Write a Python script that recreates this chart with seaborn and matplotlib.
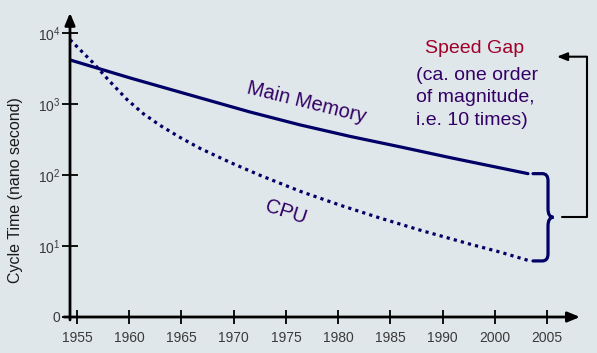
import matplotlib
matplotlib.use('Agg')
import matplotlib.pyplot as plt
import seaborn as sns
from matplotlib.path import Path
from matplotlib.patches import PathPatch
from matplotlib.ticker import NullLocator

# Main memory cycle time (ns)
mem_years = [1954.33, 1960.17, 1966.78, 1971.56, 1976.35, 1981.14, 1985.93, 1990.71, 1998.18]
mem_ns = [4140, 2290, 1213, 767, 505, 348, 248, 175, 104]

# CPU cycle time (ns)
cpu_years = [1954.33, 1956.53, 1958.16, 1959.79, 1961.32, 1962.95, 1964.86, 1966.78, 1969.65,
             1972.52, 1976.35, 1980.18, 1984.01, 1987.84, 1992.63, 1995.50, 1998.37]
cpu_ns = [7980, 3790, 2050, 1148, 731, 497, 337, 236, 150,
          98.7, 58.9, 37.5, 24.7, 16.7, 10.6, 8.2, 6.15]

# Axis ticks: ten evenly spaced ticks, labels as printed (1990 is followed by 2000)
tick_years = [1955, 1960, 1965, 1970, 1975, 1980, 1985, 1990, 1995, 2000]
tick_labels = ['1955', '1960', '1965', '1970', '1975', '1980', '1985', '1990', '2000', '2005']
y_ticks = [1, 10, 100, 1000, 10000]
y_labels = ['0', r'$\mathregular{10^1}$', r'$\mathregular{10^2}$', r'$\mathregular{10^3}$', r'$\mathregular{10^4}$']

gap_title = 'Speed Gap'
gap_lines = ['(ca. one order', 'of magnitude,', 'i.e. 10 times)']

bg = '#e0e7ea'
navy = '#000066'
purple = '#330066'
red = '#a0002a'

sns.set_theme(style='white')
plt.rcParams['font.family'] = ['Liberation Sans', 'DejaVu Sans']
plt.rcParams['mathtext.fontset'] = 'custom'
plt.rcParams['mathtext.rm'] = 'Liberation Sans'

fig = plt.figure(figsize=(5.97, 3.53), dpi=100, facecolor=bg)
ax = fig.add_axes([70 / 597, 36 / 353, 527 / 597, 312 / 353], facecolor=bg)
ax.set_yscale('log')

# the two curves
sns.lineplot(x=mem_years, y=mem_ns, ax=ax, color=navy, lw=2.3)
sns.lineplot(x=cpu_years, y=cpu_ns, ax=ax, color=navy, lw=2.3,
             linestyle=(0, (1, 1.3)), dash_capstyle='butt')

ax.set_xlim(1954.33, 2004.79)
ax.set_ylim(1, 10 ** 4.39)

# brace between the two end points
top = mem_ns[-1]
bot = cpu_ns[-1]
mid = (top * bot) ** 0.5
b0, bx, tip = 1998.66, 2000.10, 2000.62
verts = [(b0, top), (bx - 0.55, top), (bx, top), (bx, top / 10 ** 0.1),
         (bx, mid * 10 ** 0.12), (bx, mid), (tip, mid),
         (bx, mid), (bx, mid / 10 ** 0.12),
         (bx, bot * 10 ** 0.1), (bx, bot), (bx - 0.55, bot), (b0, bot)]
codes = [Path.MOVETO, Path.LINETO, Path.CURVE3, Path.CURVE3,
         Path.LINETO, Path.CURVE3, Path.CURVE3,
         Path.CURVE3, Path.CURVE3,
         Path.LINETO, Path.CURVE3, Path.CURVE3, Path.LINETO]
ax.add_patch(PathPatch(Path(verts, codes), fill=False, edgecolor=navy, lw=2.3, capstyle='round'))

# connector to the text
ax.plot([2001.44, 2003.83, 2003.83], [mid, mid, 4600], color='black', lw=1.5, clip_on=False)
ax.annotate('', xy=(2000.96, 4600), xytext=(2003.83, 4600), annotation_clip=False,
            arrowprops=dict(arrowstyle='-|>,head_length=0.5,head_width=0.2', lw=1.5,
                            color='black', shrinkA=0, shrinkB=0))

# axes drawn as arrows
for s in ax.spines.values():
    s.set_visible(False)
ax.annotate('', xy=(2003.16, 1), xytext=(1953.76, 1), annotation_clip=False,
            arrowprops=dict(arrowstyle='-|>,head_length=0.6,head_width=0.25', lw=2,
                            color='black', shrinkA=0, shrinkB=0))
ax.annotate('', xy=(1954.33, 10 ** 4.28), xytext=(1954.33, 0.91), annotation_clip=False,
            arrowprops=dict(arrowstyle='-|>,head_length=0.6,head_width=0.25', lw=2,
                            color='black', shrinkA=0, shrinkB=0))

ax.set_xticks(tick_years)
ax.set_xticklabels(tick_labels)
ax.set_yticks(y_ticks)
ax.set_yticklabels(y_labels)
ax.yaxis.set_minor_locator(NullLocator())
ax.tick_params(axis='x', direction='inout', length=10, width=1.3, pad=5,
               labelsize=10, labelcolor='#3a3a3a', color='black', bottom=True)
ax.tick_params(axis='y', direction='inout', length=12, width=1.3, pad=1,
               labelsize=10, labelcolor='#3a3a3a', color='black', left=True)
ax.set_ylabel('Cycle Time (nano second)', fontsize=11.5, color='#1a1a1a')
ax.yaxis.set_label_coords(-0.089, 0.407)

# labels
ax.text(1977.0, 1030, 'Main Memory', rotation=-14, rotation_mode='anchor',
        ha='center', va='center', fontsize=14.5, color=purple)
ax.text(1975.01, 29.9, 'CPU', rotation=-18, rotation_mode='anchor',
        ha='center', va='center', fontsize=14.5, color=purple)
ax.text(1993.11, 10 ** 3.72, gap_title, ha='center', va='baseline', fontsize=14, color=red)
for i, line in enumerate(gap_lines):
    ax.text(1987.46, 10 ** (3.341 - 0.3225 * i), line, ha='left', va='baseline',
            fontsize=14, color=purple)

fig.savefig('out.png', dpi=100, facecolor=bg)
